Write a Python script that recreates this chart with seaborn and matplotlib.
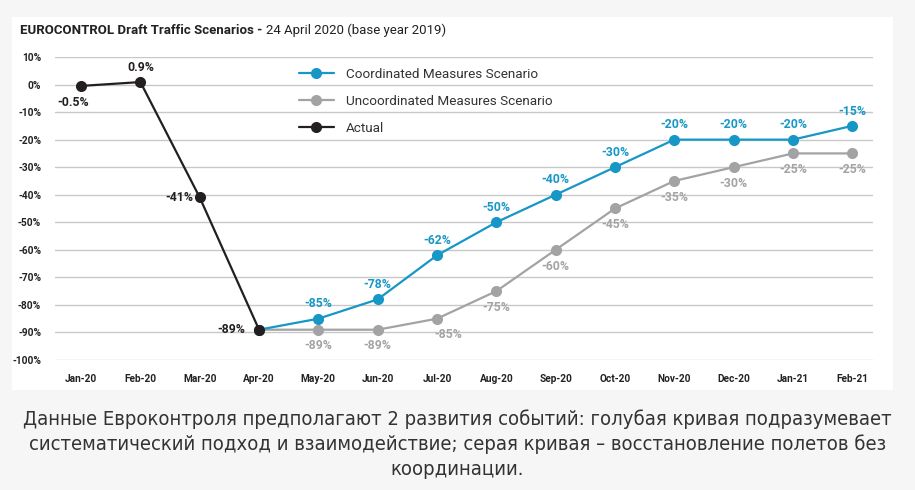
import numpy as np
import pandas as pd
import seaborn as sns
import matplotlib.pyplot as plt
from matplotlib.patches import Rectangle

# DATA
months = ['Jan-20', 'Feb-20', 'Mar-20', 'Apr-20', 'May-20', 'Jun-20', 'Jul-20',
          'Aug-20', 'Sep-20', 'Oct-20', 'Nov-20', 'Dec-20', 'Jan-21', 'Feb-21']
actual = [-0.5, 0.9, -41, -89]
coordinated = [-89, -85, -78, -62, -50, -40, -30, -20, -20, -20, -15]
uncoordinated = [-89, -89, -89, -85, -75, -60, -45, -35, -30, -25, -25]
y_ticks = list(range(10, -101, -10))

blue = '#1797c6'
gray = '#a3a3a5'
black = '#231f20'

sns.set_theme(style='white')
plt.rcParams['font.family'] = ['Roboto', 'DejaVu Sans']

fig = plt.figure(figsize=(9.15, 4.9), dpi=100)
fig.patch.set_facecolor('#f6f6f6')
fig.patches.append(Rectangle((12 / 915, 1 - 390 / 490), (893 - 12) / 915, (390 - 17) / 490,
                             transform=fig.transFigure, facecolor='white', edgecolor='none', zorder=-5))

ax = fig.add_axes([55 / 915, 130 / 490, (873 - 55) / 915, (433 - 130) / 490])
ax.set_facecolor('none')
ax.set_zorder(2)

x_all = np.arange(len(months))
df_act = pd.DataFrame({'x': x_all[:4], 'y': actual})
df_coord = pd.DataFrame({'x': x_all[3:], 'y': coordinated})
df_unc = pd.DataFrame({'x': x_all[3:], 'y': uncoordinated})

sns.lineplot(data=df_unc, x='x', y='y', ax=ax, color=gray, marker='o', markersize=8,
             markeredgewidth=0, linewidth=1.6, label='Uncoordinated Measures Scenario', zorder=3)
sns.lineplot(data=df_coord, x='x', y='y', ax=ax, color=blue, marker='o', markersize=8,
             markeredgewidth=0, linewidth=1.6, label='Coordinated Measures Scenario', zorder=4)
sns.lineplot(data=df_act, x='x', y='y', ax=ax, color=black, marker='o', markersize=8,
             markeredgewidth=0, linewidth=1.6, label='Actual', zorder=5)

# value labels
lab_kw = dict(fontsize=8.8, fontweight='bold', ha='center')
for i, v in enumerate(coordinated[1:], start=4):
    ax.annotate(f'{v}%', (i, v), xytext=(0, 6), textcoords='offset points',
                color=blue, va='bottom', **lab_kw)
for i, v in enumerate(uncoordinated[1:], start=4):
    dx = 8 if v == -85 else 0
    ax.annotate(f'{v}%', (i, v), xytext=(dx, -7), textcoords='offset points',
                color=gray, va='top', **lab_kw)
act_off = [(-6, -7, 'top'), (0, 6, 'bottom'), (-15, 0, 'center'), (-20, 0, 'center')]
for i, v in enumerate(actual):
    dx, dy, va = act_off[i]
    ax.annotate(f'{v:g}%', (i, v), xytext=(dx, dy), textcoords='offset points',
                color=black, va=va, **lab_kw)

ax.set_xlim(-0.44, 13.35)
ax.set_ylim(-100, 10)
ax.set_yticks(y_ticks)
ax.set_yticklabels([f'{t}%' for t in y_ticks])
ax.set_xticks(x_all)
ax.set_xticklabels(months)
ax.grid(axis='y', color='#c8c8c8', linewidth=1)
ax.set_axisbelow(True)
for s in ax.spines.values():
    s.set_visible(False)
ax.tick_params(axis='both', length=0, labelsize=7.3, labelcolor='#222222', pad=10)
for t in ax.get_xticklabels() + ax.get_yticklabels():
    t.set_fontweight('bold')
ax.set_xlabel('')
ax.set_ylabel('')

handles, labels = ax.get_legend_handles_labels()
order = [1, 0, 2]
ax.legend([handles[k] for k in order], [labels[k] for k in order], loc='upper left',
          bbox_to_anchor=(0.283, 1.004), frameon=False, fontsize=9.7, labelspacing=1.05,
          handlelength=2.6, handletextpad=0.9, labelcolor='#333333')

# title
t1 = fig.text(20 / 915, 1 - 30 / 490, 'EUROCONTROL Draft Traffic Scenarios - ', fontsize=9.5,
              fontweight='bold', color='#222222', va='center')
fig.canvas.draw()
bb = t1.get_window_extent()
fig.text(bb.x1 / fig.bbox.width, 1 - 30 / 490, '24 April 2020 (base year 2019)', fontsize=9.5,
         color='#222222', va='center')

caption = ['Данные Евроконтроля предполагают 2 развития событий: голубая кривая подразумевает',
           'систематический подход и взаимодействие; серая кривая – восстановление полетов без',
           'координации.']
for k, line in enumerate(caption):
    fig.text(0.5, 1 - (419 + 25 * k) / 490, line, ha='center', va='center', fontsize=14.5,
             color='#333333', family=['DejaVu Sans'], fontstretch='condensed')

fig.savefig('out.png', dpi=100, facecolor=fig.get_facecolor())
